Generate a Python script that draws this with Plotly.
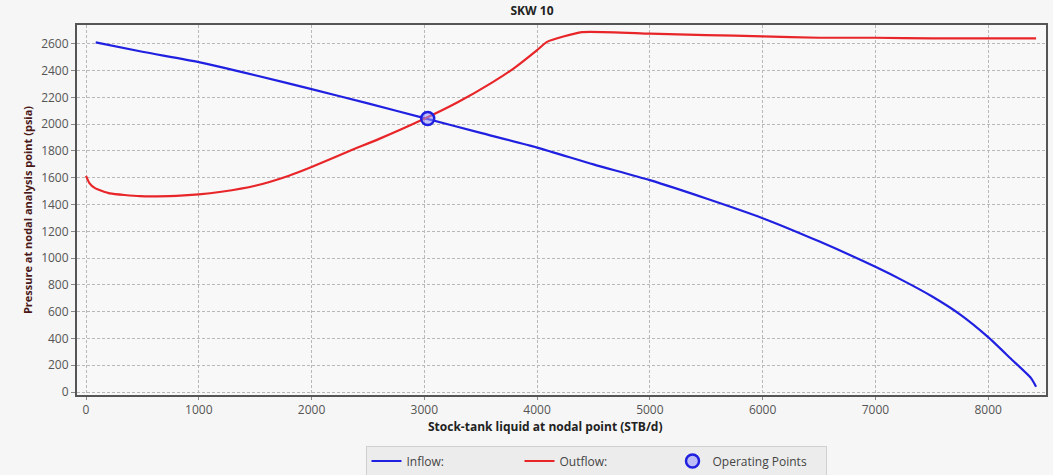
import plotly.graph_objects as go

# Data
inflow_x = [86, 500, 1000, 1500, 2000, 2500, 3000, 3500, 4000, 4500, 5000, 5500, 6000, 6500, 7000, 7250, 7500, 7750, 8000, 8200, 8380, 8425]
inflow_y = [2610, 2540, 2463, 2365, 2261, 2155, 2045, 1935, 1825, 1700, 1582, 1445, 1298, 1125, 935, 830, 715, 580, 410, 250, 104, 40]

outflow_x = [0, 30, 80, 212, 478, 800, 1000, 1200, 1500, 1800, 2000, 2336, 2600, 3000, 3300, 3600, 3800, 4000, 4088, 4398, 5000, 5500, 6000, 6500, 7000, 7500, 8000, 8425]
outflow_y = [1614, 1560, 1522, 1483, 1463, 1465, 1475, 1495, 1540, 1615, 1680, 1800, 1890, 2040, 2165, 2310, 2420, 2552, 2614, 2687, 2675, 2665, 2655, 2645, 2645, 2640, 2640, 2640]

op_x = [3030]
op_y = [2042]

x_ticks = [0, 1000, 2000, 3000, 4000, 5000, 6000, 7000, 8000]
y_ticks = [0, 200, 400, 600, 800, 1000, 1200, 1400, 1600, 1800, 2000, 2200, 2400, 2600]

font_family = "Open Sans"

fig = go.Figure()
fig.add_trace(go.Scatter(x=inflow_x, y=inflow_y, mode="lines", name="Inflow:",
                         line=dict(color="#2020e0", width=2.2, shape="spline", smoothing=0.6)))
fig.add_trace(go.Scatter(x=outflow_x, y=outflow_y, mode="lines", name="Outflow:",
                         line=dict(color="#e8262a", width=2.2, shape="spline", smoothing=0.5)))
fig.add_trace(go.Scatter(x=op_x, y=op_y, mode="markers", name="Operating Points",
                         marker=dict(size=13, color="rgba(150,150,255,0.55)",
                                     line=dict(color="#2020e0", width=2.5))))

fig.update_layout(
    width=1053, height=475,
    margin=dict(l=77, r=5, t=25, b=80),
    paper_bgcolor="#f6f6f6",
    plot_bgcolor="#f8f8f8",
    font=dict(family=font_family, size=12, color="#555555"),
    title=dict(text="<b>SKW 10</b>", x=532/1053, xanchor="center", y=1 - 11/475, yanchor="middle",
               font=dict(size=12, color="#222222", family=font_family)),
    showlegend=True,
    legend=dict(orientation="h", x=596/1053, xanchor="center", xref="container",
                y=1 - 461/475, yref="container", yanchor="middle",
                bgcolor="#ececec", bordercolor="#d0d0d0", borderwidth=1,
                font=dict(size=12, color="#444444"),
                entrywidth=108, itemwidth=30, tracegroupgap=0),
    xaxis=dict(range=[-80, 8513], tickvals=x_ticks, showgrid=True, gridcolor="#b8b8b8",
               griddash="3px,2px", gridwidth=1, zeroline=False,
               showline=True, linecolor="#555555", linewidth=2, mirror=True,
               ticks="outside", ticklen=3, tickcolor="#888888",
               tickfont=dict(size=12, color="#555555")),
    yaxis=dict(range=[-22, 2740], tickvals=y_ticks, showgrid=True, gridcolor="#b8b8b8",
               griddash="3px,2px", gridwidth=1, zeroline=False,
               showline=True, linecolor="#555555", linewidth=2, mirror=True,
               ticks="outside", ticklen=4, tickcolor="#888888",
               tickfont=dict(size=12, color="#555555"),
               title=dict(text="<b>Pressure at nodal analysis point (psia)</b>", standoff=6,
                          font=dict(size=11, color="#4a1818"))),
    annotations=[dict(text="<b>Stock-tank liquid at nodal point (STB/d)</b>",
                      xref="paper", yref="paper", x=0.5 - 16/971, y=-(426 - 395)/370,
                      xanchor="center", yanchor="middle", showarrow=False,
                      font=dict(size=12, color="#222222", family=font_family))],
)

fig.write_html("out.html")
